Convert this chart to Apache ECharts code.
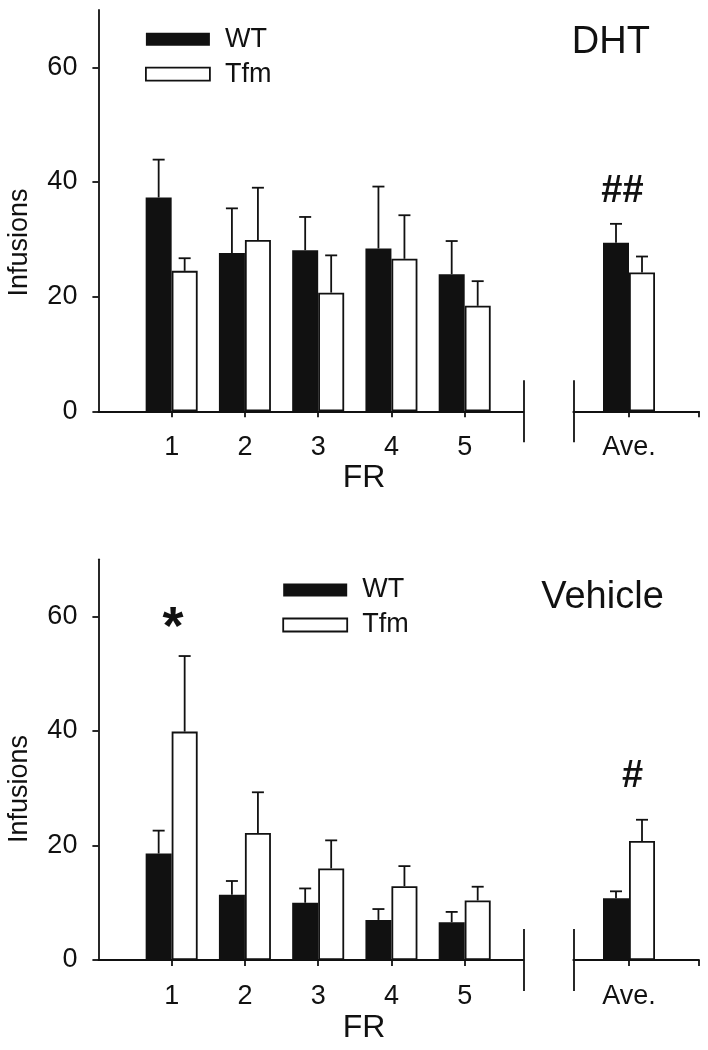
<!DOCTYPE html>
<html>
<head>
<meta charset="utf-8">
<script src="https://cdn.jsdelivr.net/npm/echarts@6/dist/echarts.min.js"></script>
<style>
html,body{margin:0;padding:0;background:#fff;}
#c{width:708px;height:1050px;}
</style>
</head>
<body>
<div id="c"></div>
<script>
// ---------- data ----------
const frValues = [1, 2, 3, 4, 5];
const frLabels = ['1', '2', '3', '4', '5'];
const aveLabel = 'Ave.';
const yTicks = [0, 20, 40, 60];

const dhtWT = [37.3, 27.6, 28.1, 28.4, 23.9];
const dhtWTErr = [6.6, 7.8, 5.8, 10.8, 5.8];
const dhtTfm = [24.5, 29.9, 20.7, 26.6, 18.4];
const dhtTfmErr = [2.2, 9.1, 6.5, 7.6, 4.3];
const dhtAveWT = [29.4];
const dhtAveWTErr = [3.3];
const dhtAveTfm = [24.2];
const dhtAveTfmErr = [2.8];

const vehWT = [18.6, 11.4, 10.0, 7.0, 6.6];
const vehWTErr = [4.0, 2.4, 2.5, 1.9, 1.8];
const vehTfm = [39.9, 22.2, 16.0, 12.9, 10.4];
const vehTfmErr = [13.2, 7.1, 4.9, 3.5, 2.4];
const vehAveWT = [10.8];
const vehAveWTErr = [1.2];
const vehAveTfm = [20.8];
const vehAveTfmErr = [3.7];

// annotations: [x, y, text]
const dhtAveMarks = [[-0.09, 38.3, '##']];
const vehAveMarks = [[0.05, 32.0, '#']];
const vehFrMarks = [[1.02, 57.8, '*']];

// ---------- styling ----------
const FONT = '"Liberation Sans", Arial, sans-serif';
const INK = '#111';
const LW = 1.8;
const BAR_W = 26;
const FR_MAX = 5.8;
const AVE_MIN = -0.76, AVE_MAX = 0.955;

const grids = [
  {left: 98.4, top: 10, width: 424.9, height: 401.3},
  {left: 573.3, top: 10, width: 125.7, height: 401.3},
  {left: 98.4, top: 559.3, width: 424.9, height: 400.7},
  {left: 573.3, top: 559.3, width: 125.7, height: 400.7}
];

function mainX(gi, isAve) {
  return {
    type: 'value', gridIndex: gi, position: 'bottom',
    min: isAve ? AVE_MIN : 0, max: isAve ? AVE_MAX : FR_MAX,
    axisLine: {show: true, onZero: false, lineStyle: {color: INK, width: LW}},
    axisTick: {show: true, length: 6, lineStyle: {color: INK, width: LW},
      customValues: isAve ? [0, AVE_MAX] : frValues},
    axisLabel: {show: true, margin: 23, color: INK, fontSize: 27, fontFamily: FONT,
      customValues: isAve ? [0] : frValues,
      formatter: v => isAve ? aveLabel : frLabels[frValues.indexOf(v)]},
    splitLine: {show: false}
  };
}
function breakX(gi, isAve) {
  return {
    type: 'value', gridIndex: gi, position: 'bottom', offset: 31,
    min: isAve ? AVE_MIN : 0, max: isAve ? AVE_MAX : FR_MAX,
    axisLine: {show: false, onZero: false},
    axisTick: {show: true, inside: true, length: 62, lineStyle: {color: INK, width: LW},
      customValues: [isAve ? AVE_MIN : FR_MAX]},
    axisLabel: {show: false},
    splitLine: {show: false}
  };
}
function yAx(gi, show) {
  return {
    type: 'value', gridIndex: gi, min: 0, max: 70, show: show,
    axisLine: {show: true, onZero: false, lineStyle: {color: INK, width: LW}},
    axisTick: {show: true, length: 6, lineStyle: {color: INK, width: LW}, customValues: yTicks},
    axisLabel: {show: true, margin: 21, color: INK, fontSize: 27, fontFamily: FONT, customValues: yTicks},
    splitLine: {show: false}
  };
}

function barSeries(name, xi, yi, xs, vals, white) {
  return {
    type: 'bar', name: name, xAxisIndex: xi, yAxisIndex: yi,
    barWidth: BAR_W, barGap: '0%',
    data: vals.map((v, i) => [xs[i], v]),
    itemStyle: white ? {color: '#fff', borderColor: INK, borderWidth: LW}
                     : {color: INK, borderColor: INK, borderWidth: 0},
    emphasis: {disabled: true}, silent: true
  };
}
function errSeries(xi, yi, xs, wt, wtE, tfm, tfmE) {
  const data = [];
  xs.forEach((x, i) => {
    data.push([x, wt[i], wtE[i], -1]);
    data.push([x, tfm[i], tfmE[i], 1]);
  });
  return {
    type: 'custom', xAxisIndex: xi, yAxisIndex: yi, silent: true, z: 5,
    data: data,
    renderItem: function (params, api) {
      const x = api.value(0), v = api.value(1), e = api.value(2), side = api.value(3);
      const b = api.coord([x, v]), t = api.coord([x, v + e]);
      const cx = b[0] + side * BAR_W / 2;
      return {type: 'group', children: [
        {type: 'line', shape: {x1: cx, y1: b[1], x2: cx, y2: t[1]}, style: {stroke: INK, lineWidth: LW}},
        {type: 'line', shape: {x1: cx - 6, y1: t[1], x2: cx + 6, y2: t[1]}, style: {stroke: INK, lineWidth: LW}}
      ]};
    }
  };
}
function markSeries(xi, yi, marks, size) {
  return {
    type: 'custom', xAxisIndex: xi, yAxisIndex: yi, silent: true, z: 6, clip: false,
    data: marks.map(m => [m[0], m[1]]),
    renderItem: function (params, api) {
      const p = api.coord([api.value(0), api.value(1)]);
      return {type: 'text', x: p[0], y: p[1],
        style: {text: marks[params.dataIndex][2], fill: INK,
          font: 'bold ' + size + 'px ' + FONT, textAlign: 'center', textVerticalAlign: 'middle'}};
    }
  };
}

function legendAt(left, top) {
  return {
    orient: 'vertical', left: left, top: top, padding: 0, itemGap: 8,
    itemWidth: 64, itemHeight: 13, selectedMode: false,
    textStyle: {color: INK, fontSize: 27, fontFamily: FONT, padding: [0, 0, 0, 10]},
    data: [
      {name: 'WT', icon: 'rect', itemStyle: {color: INK, borderWidth: 0}},
      {name: 'Tfm', icon: 'rect', itemStyle: {color: '#fff', borderColor: INK, borderWidth: LW}}
    ]
  };
}

function txt(x, y, s, size, rot) {
  return {type: 'text', x: x, y: y, rotation: rot || 0, silent: true,
    style: {text: s, fill: INK, font: size + 'px ' + FONT, textAlign: 'center', textVerticalAlign: 'middle'}};
}

const option = {
  animation: false,
  backgroundColor: '#fff',
  grid: grids,
  xAxis: [mainX(0, false), breakX(0, false), mainX(1, true), breakX(1, true),
          mainX(2, false), breakX(2, false), mainX(3, true), breakX(3, true)],
  yAxis: [yAx(0, true), yAx(1, false), yAx(2, true), yAx(3, false)],
  legend: [legendAt(145, 25.7), legendAt(282.3, 576.5)],
  series: [
    barSeries('WT', 0, 0, frValues, dhtWT, false),
    barSeries('Tfm', 0, 0, frValues, dhtTfm, true),
    errSeries(0, 0, frValues, dhtWT, dhtWTErr, dhtTfm, dhtTfmErr),
    barSeries('WT', 2, 1, [0], dhtAveWT, false),
    barSeries('Tfm', 2, 1, [0], dhtAveTfm, true),
    errSeries(2, 1, [0], dhtAveWT, dhtAveWTErr, dhtAveTfm, dhtAveTfmErr),
    markSeries(2, 1, dhtAveMarks, 38),

    barSeries('WT', 4, 2, frValues, vehWT, false),
    barSeries('Tfm', 4, 2, frValues, vehTfm, true),
    errSeries(4, 2, frValues, vehWT, vehWTErr, vehTfm, vehTfmErr),
    markSeries(4, 2, vehFrMarks, 54),
    barSeries('WT', 6, 3, [0], vehAveWT, false),
    barSeries('Tfm', 6, 3, [0], vehAveTfm, true),
    errSeries(6, 3, [0], vehAveWT, vehAveWTErr, vehAveTfm, vehAveTfmErr),
    markSeries(6, 3, vehAveMarks, 38)
  ],
  graphic: [
    txt(610.8, 42.5, 'DHT', 38),
    txt(602.5, 598, 'Vehicle', 38),
    txt(364, 478.5, 'FR', 32),
    txt(364, 1028.5, 'FR', 32),
    txt(20, 242.5, 'Infusions', 27, Math.PI / 2),
    txt(20, 789, 'Infusions', 27, Math.PI / 2)
  ]
};

const chart = echarts.init(document.getElementById('c'), null, {renderer: 'canvas'});
chart.setOption(option);
</script>
</body>
</html>
